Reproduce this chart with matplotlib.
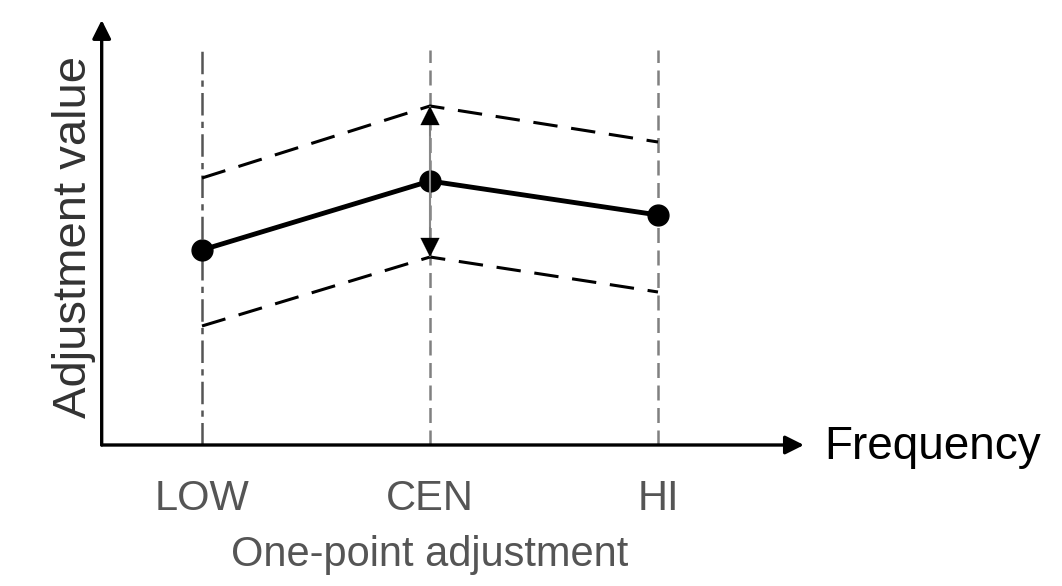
import numpy as np
import matplotlib.pyplot as plt

plt.rcParams['font.family'] = ['Liberation Sans', 'DejaVu Sans']

# values (arbitrary units, 0 = frequency axis)
categories = ['LOW', 'CEN', 'HI']
adjustment = [1.95, 2.64, 2.30]
upper_limit = [2.67, 3.39, 3.03]
lower_limit = [1.19, 1.88, 1.53]
guide_top = 3.95
y_axis_top = 4.25
x_axis_end = 2.64
y_axis_x = -0.44

x = np.arange(len(categories))

fig = plt.figure(figsize=(10.62, 5.86), dpi=100)
ax = fig.add_axes([0, 0, 1, 1])
ax.set_xlim(-0.886, 3.772)
ax.set_ylim(-1.41, 4.45)
ax.axis('off')

# vertical guide lines at each frequency
ax.vlines(x[0], 0, guide_top, color='#555555', lw=1.8, linestyles=(0, (9, 2.5, 2.5, 2.5)))
ax.vlines(x[1:], 0, guide_top, color='#808080', lw=1.8, linestyles=(0, (6, 3)))

# limits and adjustment line
ax.plot(x, upper_limit, color='black', lw=2.2, dashes=(8, 4.5))
ax.plot(x, lower_limit, color='black', lw=2.2, dashes=(8, 4.5))
ax.plot(x, adjustment, color='black', lw=3.5, marker='o', ms=15)

# double arrow at CEN: grey shaft, black heads
ax.vlines(x[1], lower_limit[1], upper_limit[1], color='#888888', lw=1.5)
for tip, base in [(upper_limit[1], upper_limit[1] - 0.3), (lower_limit[1], lower_limit[1] + 0.3)]:
    ax.annotate('', xy=(x[1], tip), xytext=(x[1], base),
                arrowprops=dict(arrowstyle='-|>', color='black', lw=0.1,
                                mutation_scale=34, shrinkA=0, shrinkB=0))

# axes with arrows
ax.annotate('', xy=(y_axis_x, y_axis_top), xytext=(y_axis_x, 0),
            arrowprops=dict(arrowstyle='-|>', color='black', lw=2.4,
                            mutation_scale=28, shrinkA=0, shrinkB=0))
ax.annotate('', xy=(x_axis_end, 0), xytext=(y_axis_x, 0),
            arrowprops=dict(arrowstyle='-|>', color='black', lw=2.4,
                            mutation_scale=28, shrinkA=0, shrinkB=0))

for xi, lab in zip(x, categories):
    ax.text(xi, -0.54, lab, ha='center', va='center', fontsize=30, color='#555555')

ax.text(x[1], -1.1, 'One-point adjustment', ha='center', va='center', fontsize=30, color='#555555')
ax.text(2.73, -0.02, 'Frequency', ha='left', va='center', fontsize=33, color='black')
ax.text(-0.56, 2.08, 'Adjustment value', ha='center', va='center', rotation=90,
        fontsize=34, color='#333333')

fig.savefig('out.png', dpi=100)
